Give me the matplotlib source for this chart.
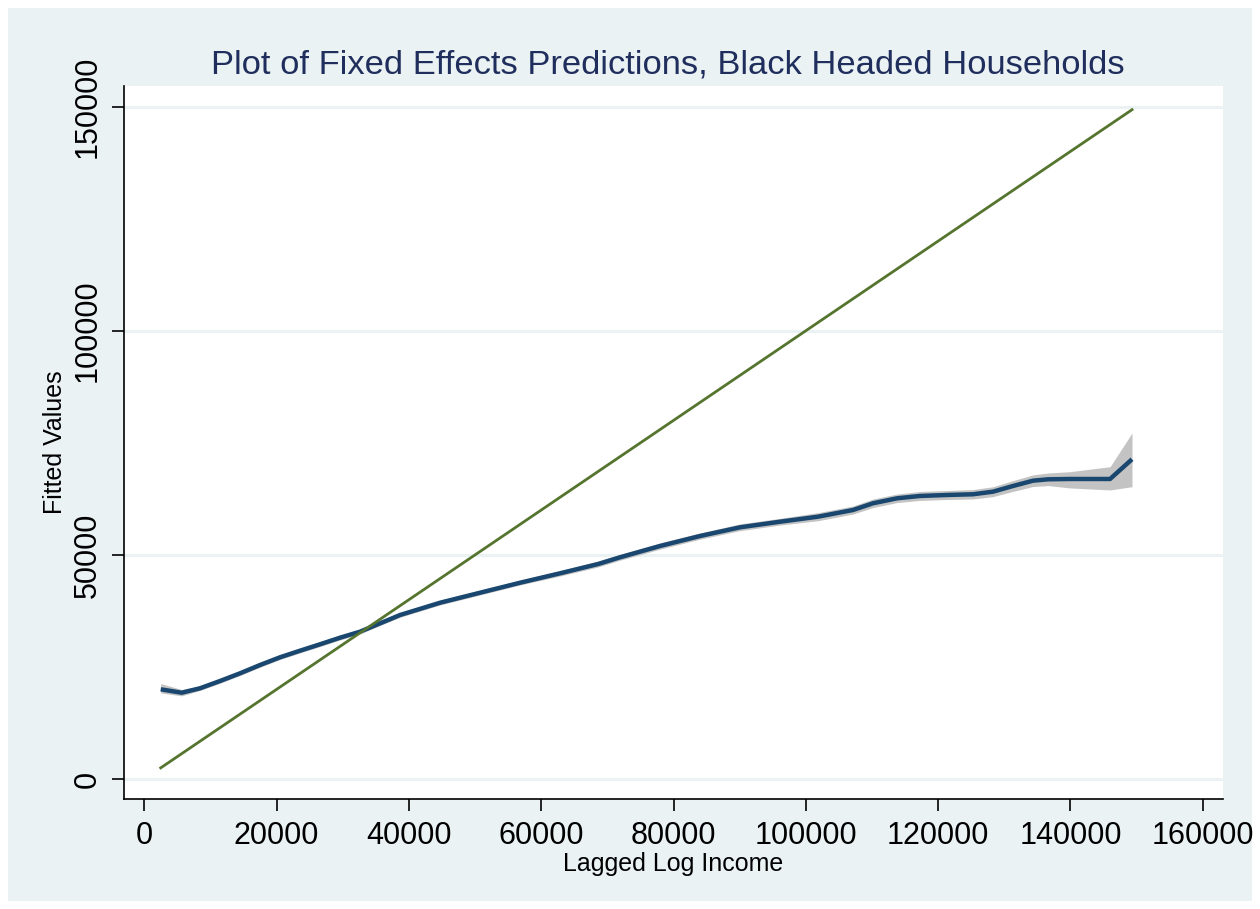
import matplotlib
matplotlib.use("Agg")
import matplotlib.pyplot as plt
from matplotlib.patches import Rectangle

# Lagged income grid and fixed-effects fitted values with 95% band
lag_income = [2480, 5650, 8420, 11440, 14470, 17490, 20510, 23530, 26560, 29580,
              32600, 38670, 44720, 50760, 56810, 62860, 68600, 71920, 77970, 84020,
              90060, 96110, 101850, 107140, 110160, 113790, 117270, 121350, 125280,
              128300, 131330, 134350, 136620, 139940, 145990, 149310]
fitted = [20010, 19250, 20240, 21860, 23580, 25430, 27150, 28620, 30050, 31520,
          32860, 36590, 39330, 41560, 43790, 45890, 47960, 49460, 51980, 54210,
          56150, 57400, 58520, 60010, 61510, 62620, 63140, 63360, 63520,
          64100, 65370, 66550, 66860, 66930, 66930, 71330]
ci_upper = [21300, 19950, 20740, 22360, 24080, 25930, 27650, 29120, 30550, 32020,
            33360, 37090, 39830, 42060, 44290, 46490, 48610, 50110, 52680, 54910,
            56900, 58150, 59420, 60910, 62460, 63570, 64140, 64360, 64570,
            65200, 66570, 67850, 68260, 68560, 69670, 77190]
ci_lower = [19200, 18550, 19740, 21360, 23080, 24930, 26650, 28120, 29550, 31020,
            32360, 36090, 38830, 41060, 43290, 45290, 47310, 48810, 51280, 53510,
            55400, 56650, 57620, 59110, 60560, 61670, 62140, 62360, 62470,
            63000, 64170, 65250, 65460, 64930, 64480, 65210]

x_ticks = [0, 20000, 40000, 60000, 80000, 100000, 120000, 140000, 160000]
y_ticks = [0, 50000, 100000, 150000]

BG = "#EAF2F3"
NAVY = "#1A476F"
GREEN = "#55752F"
BAND = "#C3C3C3"

plt.rcParams["font.family"] = ["Liberation Sans", "DejaVu Sans"]

W, H = 1260, 909
fig = plt.figure(figsize=(W / 100, H / 100), dpi=100, facecolor="white")
fig.patches.append(Rectangle((8 / W, 8 / H), 1244 / W, 893 / H,
                             transform=fig.transFigure, facecolor=BG,
                             edgecolor="none", zorder=-10))

left, right, top, bottom = 124, 1222.7, 86, 799
ax = fig.add_axes([left / W, (H - bottom) / H, (right - left) / W, (bottom - top) / H])
ax.set_facecolor("white")

ax.set_xlim(-3070, 163020)
ax.set_ylim(-4462, 154600)

for yv in y_ticks:
    ax.axhline(yv, color=BG, lw=2.2, zorder=1)

ax.fill_between(lag_income, ci_lower, ci_upper, color=BAND, lw=0, zorder=2)
ax.plot(lag_income, fitted, color=NAVY, lw=3.2, solid_capstyle="butt", zorder=3)
ax.plot([lag_income[0], lag_income[-1]], [lag_income[0], lag_income[-1]],
        color=GREEN, lw=2.0, zorder=4)

for side in ("top", "right"):
    ax.spines[side].set_visible(False)
for side in ("left", "bottom"):
    ax.spines[side].set_linewidth(1.2)
    ax.spines[side].set_color("black")

ax.set_xticks(x_ticks)
ax.set_xticklabels([str(v) for v in x_ticks])
ax.set_yticks(y_ticks)
ax.set_yticklabels([str(v) for v in y_ticks])
ax.tick_params(axis="both", length=8.6, width=1.2, labelsize=22, color="black",
               labelcolor="black")
ax.tick_params(axis="x", pad=7)
ax.tick_params(axis="y", pad=7, labelrotation=90)
for lbl in ax.get_yticklabels():
    lbl.set_verticalalignment("center")

ax.set_xlabel("Lagged Log Income", fontsize=18, color="black")
ax.xaxis.set_label_coords(0.5, (bottom - 864) / (bottom - top))
ax.xaxis.label.set_verticalalignment("center")
ax.set_ylabel("Fitted Values", fontsize=18, color="black")
ax.yaxis.set_label_coords((55 - left) / (right - left), 0.5)
ax.yaxis.label.set_verticalalignment("center")

ax.set_title("Plot of Fixed Effects Predictions, Black Headed Households",
             fontsize=24.8, color="#1F2E5C", y=(bottom - 73) / (bottom - top),
             va="center", x=(668 - left) / (right - left))

fig.savefig("out.png", dpi=100, facecolor="white")
